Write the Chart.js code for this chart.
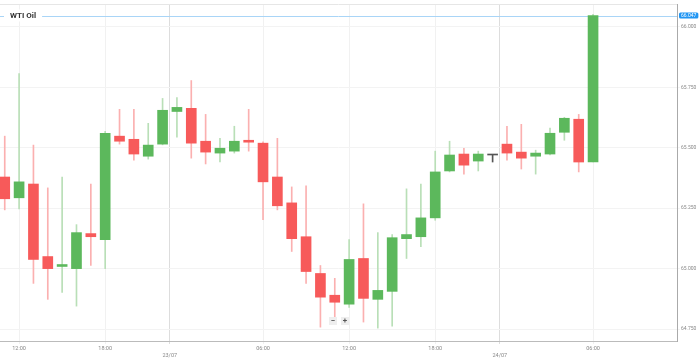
<!DOCTYPE html>
<html>
<head>
<meta charset="utf-8">
<script src="https://cdn.jsdelivr.net/npm/chart.js@4.4.1/dist/chart.umd.min.js"></script>
<style>
  html, body { margin: 0; padding: 0; background: #fff; }
  .wrap { position: relative; width: 699px; height: 359px; }
  .zoom-btn {
    position: absolute; top: 317px; width: 8px; height: 8px;
    background: #eeeeee; color: #555; font: bold 8px Roboto, sans-serif;
    line-height: 8px; text-align: center;
  }
</style>
</head>
<body>
<div class="wrap">
  <canvas id="oilChart" width="699" height="359"></canvas>
  <div class="zoom-btn" style="left:329px">−</div>
  <div class="zoom-btn" style="left:341px">+</div>
</div>
<script>
// ===== Data (hourly candles) =====
const openVals  = [65.379, 65.293, 65.350, 65.050, 65.009, 65.000, 65.145, 65.120, 65.548, 65.535,
                   65.465, 65.515, 65.650, 65.663, 65.527, 65.478, 65.486, 65.531, 65.519, 65.379,
                   65.272, 65.132, 64.980, 64.890, 64.853, 65.042, 64.873, 64.906, 65.124, 65.132,
                   65.210, 65.404, 65.474, 65.445, 65.470, 65.515, 65.482, 65.465, 65.474, 65.564,
                   65.618, 65.441];
const highVals  = [65.548, 65.807, 65.511, 65.334, 65.379, 65.182, 65.350, 65.568, 65.659, 65.659,
                   65.601, 65.704, 65.708, 65.778, 65.638, 65.539, 65.589, 65.659, 65.525, 65.539,
                   65.338, 65.342, 65.013, 64.960, 65.120, 65.268, 65.149, 65.141, 65.330, 65.350,
                   65.486, 65.527, 65.498, 65.486, 65.470, 65.589, 65.597, 65.490, 65.581, 65.626,
                   65.638, 66.052];
const lowVals   = [65.243, 65.247, 64.939, 64.873, 64.902, 64.845, 65.013, 65.000, 65.515, 65.449,
                   65.453, 65.512, 65.544, 65.457, 65.433, 65.441, 65.478, 65.486, 65.203, 65.243,
                   65.071, 64.939, 64.758, 64.799, 64.840, 64.779, 64.754, 64.762, 65.042, 65.091,
                   65.200, 65.400, 65.391, 65.404, 65.441, 65.449, 65.412, 65.391, 65.470, 65.531,
                   65.400, 65.441];
const closeVals = [65.289, 65.359, 65.038, 65.000, 65.017, 65.149, 65.132, 65.560, 65.527, 65.474,
                   65.511, 65.655, 65.667, 65.519, 65.482, 65.498, 65.527, 65.523, 65.359, 65.260,
                   65.124, 64.988, 64.882, 64.861, 65.038, 64.877, 64.910, 65.128, 65.141, 65.210,
                   65.400, 65.470, 65.428, 65.474, 65.470, 65.478, 65.457, 65.478, 65.560, 65.622,
                   65.441, 66.047];

const xTickIndex  = [1, 7, 11.5, 18, 24, 30, 34.5, 41];
const xTickLabels = ['12:00', '18:00', '23/07', '06:00', '12:00', '18:00', '24/07', '06:00'];
const dateTicks   = ['23/07', '24/07'];

const UP = '#5cb85c', DOWN = '#f75a5a', FLAT = '#555555';
const UP_WICK = '#b9dfb7', DOWN_WICK = '#fbb0b0';

const candleColor = i => closeVals[i] > openVals[i] ? UP : (closeVals[i] < openVals[i] ? DOWN : FLAT);
const wickColor = i => closeVals[i] > openVals[i] ? UP_WICK : (closeVals[i] < openVals[i] ? DOWN_WICK : FLAT);

const wickData = openVals.map((o, i) => ({ x: i, y: [lowVals[i], highVals[i]] }));
const bodyData = openVals.map((o, i) => ({ x: i, y: [o, closeVals[i]] }));

// ---------- extra drawing: price line, title, price tag ----------
const overlay = {
  id: 'overlay',
  beforeDatasetsDraw(chart) {
    const { ctx, chartArea: a, scales: { y } } = chart;
    ctx.save();
    ctx.strokeStyle = '#e6e6e6';
    ctx.lineWidth = 1;
    ctx.beginPath();
    ctx.moveTo(a.left, a.top + 0.5);
    ctx.lineTo(a.right, a.top + 0.5);
    ctx.stroke();
    const py = Math.round(y.getPixelForValue(closeVals[closeVals.length - 1])) + 0.5;
    ctx.strokeStyle = '#a9d5f7';
    ctx.beginPath();
    ctx.moveTo(a.left, py);
    ctx.lineTo(a.right, py);
    ctx.stroke();
    ctx.restore();
  },
  afterDraw(chart) {
    const { ctx, chartArea: a, scales: { y } } = chart;
    const last = closeVals[closeVals.length - 1];
    const py = y.getPixelForValue(last);
    ctx.save();
    // title
    ctx.font = 'bold 8px Roboto, sans-serif';
    const tw = ctx.measureText('WTI Oil').width;
    ctx.fillStyle = '#fff';
    ctx.fillRect(4, py - 6, tw + 12, 12);
    ctx.fillStyle = '#333';
    ctx.textBaseline = 'middle';
    ctx.fillText('WTI Oil', 10, py);
    // price tag
    ctx.font = '5px Roboto, sans-serif';
    const label = last.toFixed(3);
    const lw = ctx.measureText(label).width;
    ctx.fillStyle = '#2196f3';
    ctx.beginPath();
    ctx.roundRect(a.right + 2, py - 3, lw + 4, 6, 1.5);
    ctx.fill();
    ctx.fillStyle = '#fff';
    ctx.fillText(label, a.right + 4, py + 0.3);
    ctx.restore();
  }
};

new Chart(document.getElementById('oilChart'), {
  type: 'bar',
  data: {
    datasets: [
      {
        data: wickData,
        backgroundColor: wickData.map((d, i) => wickColor(i)),
        barThickness: 1,
        grouped: false,
        order: 2,
        borderWidth: 0
      },
      {
        data: bodyData,
        backgroundColor: bodyData.map((d, i) => candleColor(i)),
        barThickness: 10,
        minBarLength: 1,
        grouped: false,
        order: 1,
        borderWidth: 0
      }
    ]
  },
  options: {
    responsive: false,
    animation: false,
    layout: { padding: { top: 2, left: 0, right: 0, bottom: 0 } },
    plugins: { legend: { display: false }, tooltip: { enabled: false } },
    scales: {
      x: {
        type: 'linear',
        offset: false,
        min: -0.33,
        max: 46.85,
        grid: {
          offset: false,
          tickLength: 3,
          color: ctx => (ctx.tick && xTickIndex.indexOf(ctx.tick.value) >= 0 &&
            dateTicks.includes(xTickLabels[xTickIndex.indexOf(ctx.tick.value)])) ? '#dddddd' : '#f1f1f1'
        },
        border: { color: '#bbbbbb' },
        afterBuildTicks: axis => { axis.ticks = xTickIndex.map(v => ({ value: v })); },
        afterFit: axis => { axis.height = 18; },
        ticks: {
          autoSkip: false,
          maxRotation: 0,
          padding: 1,
          color: '#888',
          font: { size: 5.5, family: 'Roboto, sans-serif', lineHeight: 1.3 },
          callback: v => {
            const lab = xTickLabels[xTickIndex.indexOf(v)];
            return dateTicks.includes(lab) ? ['', lab] : lab;
          }
        }
      },
      y: {
        position: 'right',
        min: 64.7007,
        max: 66.0946,
        grid: { color: '#f3f3f3', tickLength: 3 },
        border: { color: '#aaaaaa' },
        afterFit: axis => { axis.width = 22; },
        ticks: {
          stepSize: 0.25,
          includeBounds: false,
          padding: 1,
          color: '#888',
          font: { size: 5, family: 'Roboto, sans-serif' },
          callback: v => Number(v).toFixed(3)
        }
      }
    }
  },
  plugins: [overlay]
});
</script>
</body>
</html>
